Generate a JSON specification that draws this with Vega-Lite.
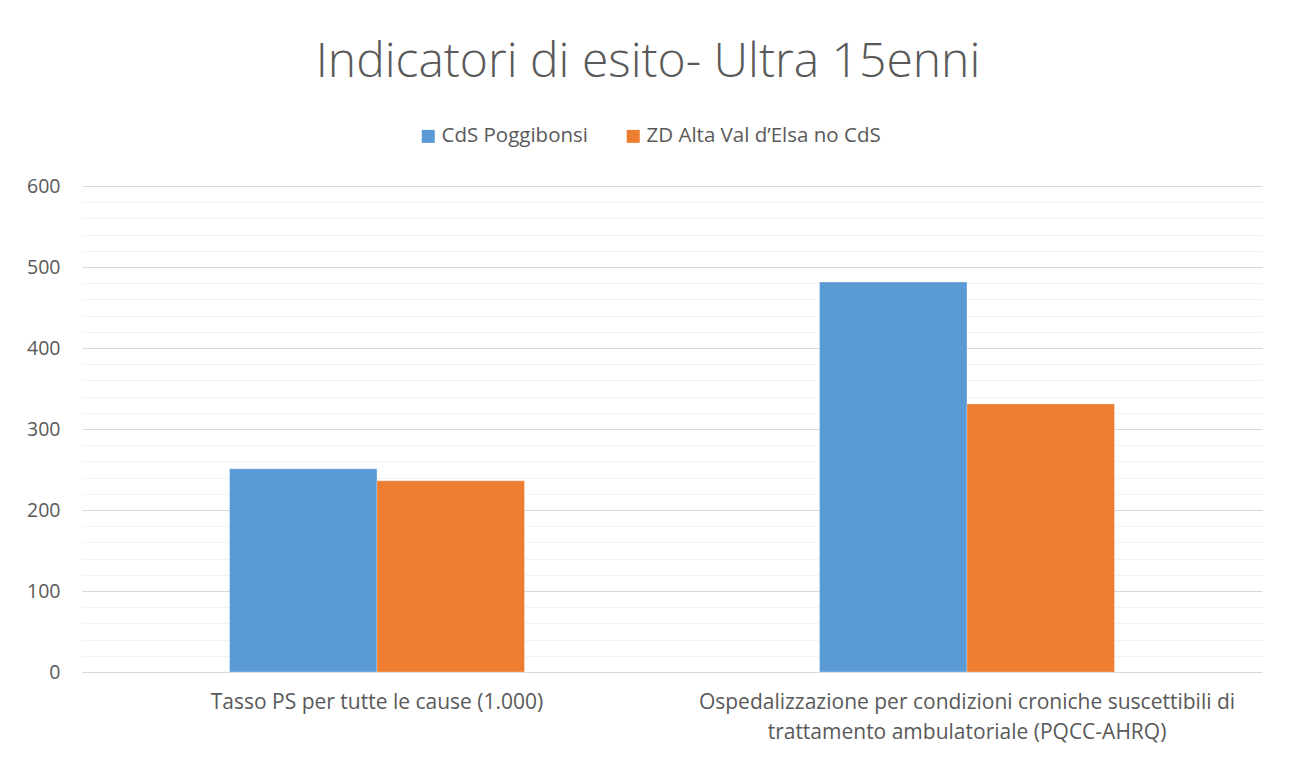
{
  "$schema": "https://vega.github.io/schema/vega-lite/v6.json",
  "width": 1180,
  "height": 486,
  "autosize": "none",
  "padding": {"left": 82, "top": 186, "right": 30, "bottom": 88},
  "background": "#ffffff",
  "config": {
    "font": "Open Sans",
    "view": {"stroke": null},
    "axis": {"labelColor": "#595959", "labelFont": "Open Sans"},
    "legend": {"labelColor": "#595959", "labelFont": "Open Sans"}
  },
  "title": {
    "text": "Indicatori di esito- Ultra 15enni",
    "font": "Open Sans",
    "fontSize": 48,
    "fontWeight": 300,
    "color": "#595959",
    "anchor": "middle",
    "frame": "group",
    "baseline": "alphabetic",
    "offset": 1,
    "dx": -24
  },
  "data": {
    "values": [
      {"categoria": "Tasso PS per tutte le cause (1.000)", "serie": "CdS Poggibonsi", "valore": 251},
      {"categoria": "Tasso PS per tutte le cause (1.000)", "serie": "ZD Alta Val d’Elsa no CdS", "valore": 236},
      {"categoria": "Ospedalizzazione per condizioni croniche suscettibili di|trattamento ambulatoriale (PQCC-AHRQ)", "serie": "CdS Poggibonsi", "valore": 481.5},
      {"categoria": "Ospedalizzazione per condizioni croniche suscettibili di|trattamento ambulatoriale (PQCC-AHRQ)", "serie": "ZD Alta Val d’Elsa no CdS", "valore": 331}
    ]
  },
  "encoding": {
    "x": {
      "field": "categoria",
      "type": "nominal",
      "sort": null,
      "scale": {"paddingInner": 0.5, "paddingOuter": 0.25},
      "axis": {
        "title": null,
        "labelAngle": 0,
        "labelExpr": "split(datum.label, '|')",
        "labelFontSize": 21,
        "labelLineHeight": 30,
        "labelPadding": 19,
        "labelLimit": 1000,
        "labelBaseline": "top",
        "domain": false,
        "ticks": false,
        "grid": false
      }
    },
    "xOffset": {
      "field": "serie",
      "type": "nominal",
      "scale": {"paddingInner": 0, "paddingOuter": 0}
    }
  },
  "layer": [
    {
      "mark": {"type": "bar", "fillOpacity": 0},
      "encoding": {
        "y": {
          "field": "valore",
          "type": "quantitative",
          "scale": {"domain": [0, 600]},
          "axis": {
            "orient": "right",
            "values": [20, 40, 60, 80, 120, 140, 160, 180, 220, 240, 260, 280, 320, 340, 360, 380, 420, 440, 460, 480, 520, 540, 560, 580],
            "grid": true,
            "gridColor": "#f2f2f2",
            "gridWidth": 1,
            "labels": false,
            "ticks": false,
            "domain": false,
            "title": null
          }
        }
      }
    },
    {
      "mark": {"type": "bar", "stroke": "#ffffff", "strokeWidth": 0.5, "strokeOpacity": 0.6},
      "encoding": {
        "y": {
          "field": "valore",
          "type": "quantitative",
          "scale": {"domain": [0, 600]},
          "axis": {
            "orient": "left",
            "values": [0, 100, 200, 300, 400, 500, 600],
            "grid": true,
            "gridColor": "#d9d9d9",
            "gridWidth": 1,
            "labelFontSize": 19.5,
            "labelPadding": 22,
            "ticks": false,
            "domain": false,
            "title": null
          }
        },
        "color": {
          "field": "serie",
          "type": "nominal",
          "scale": {"domain": ["CdS Poggibonsi", "ZD Alta Val d’Elsa no CdS"], "range": ["#5b9bd5", "#ed7d31"]},
          "legend": {
            "title": null,
            "orient": "none",
            "direction": "horizontal",
            "legendX": 336,
            "legendY": -60,
            "padding": 0,
            "symbolType": "square",
            "symbolSize": 169,
            "symbolStrokeWidth": 0,
            "labelFontSize": 20.5,
            "labelOffset": 3,
            "labelLimit": 500,
            "columnPadding": 34
          }
        }
      }
    }
  ],
  "resolve": {"axis": {"y": "independent"}}
}
